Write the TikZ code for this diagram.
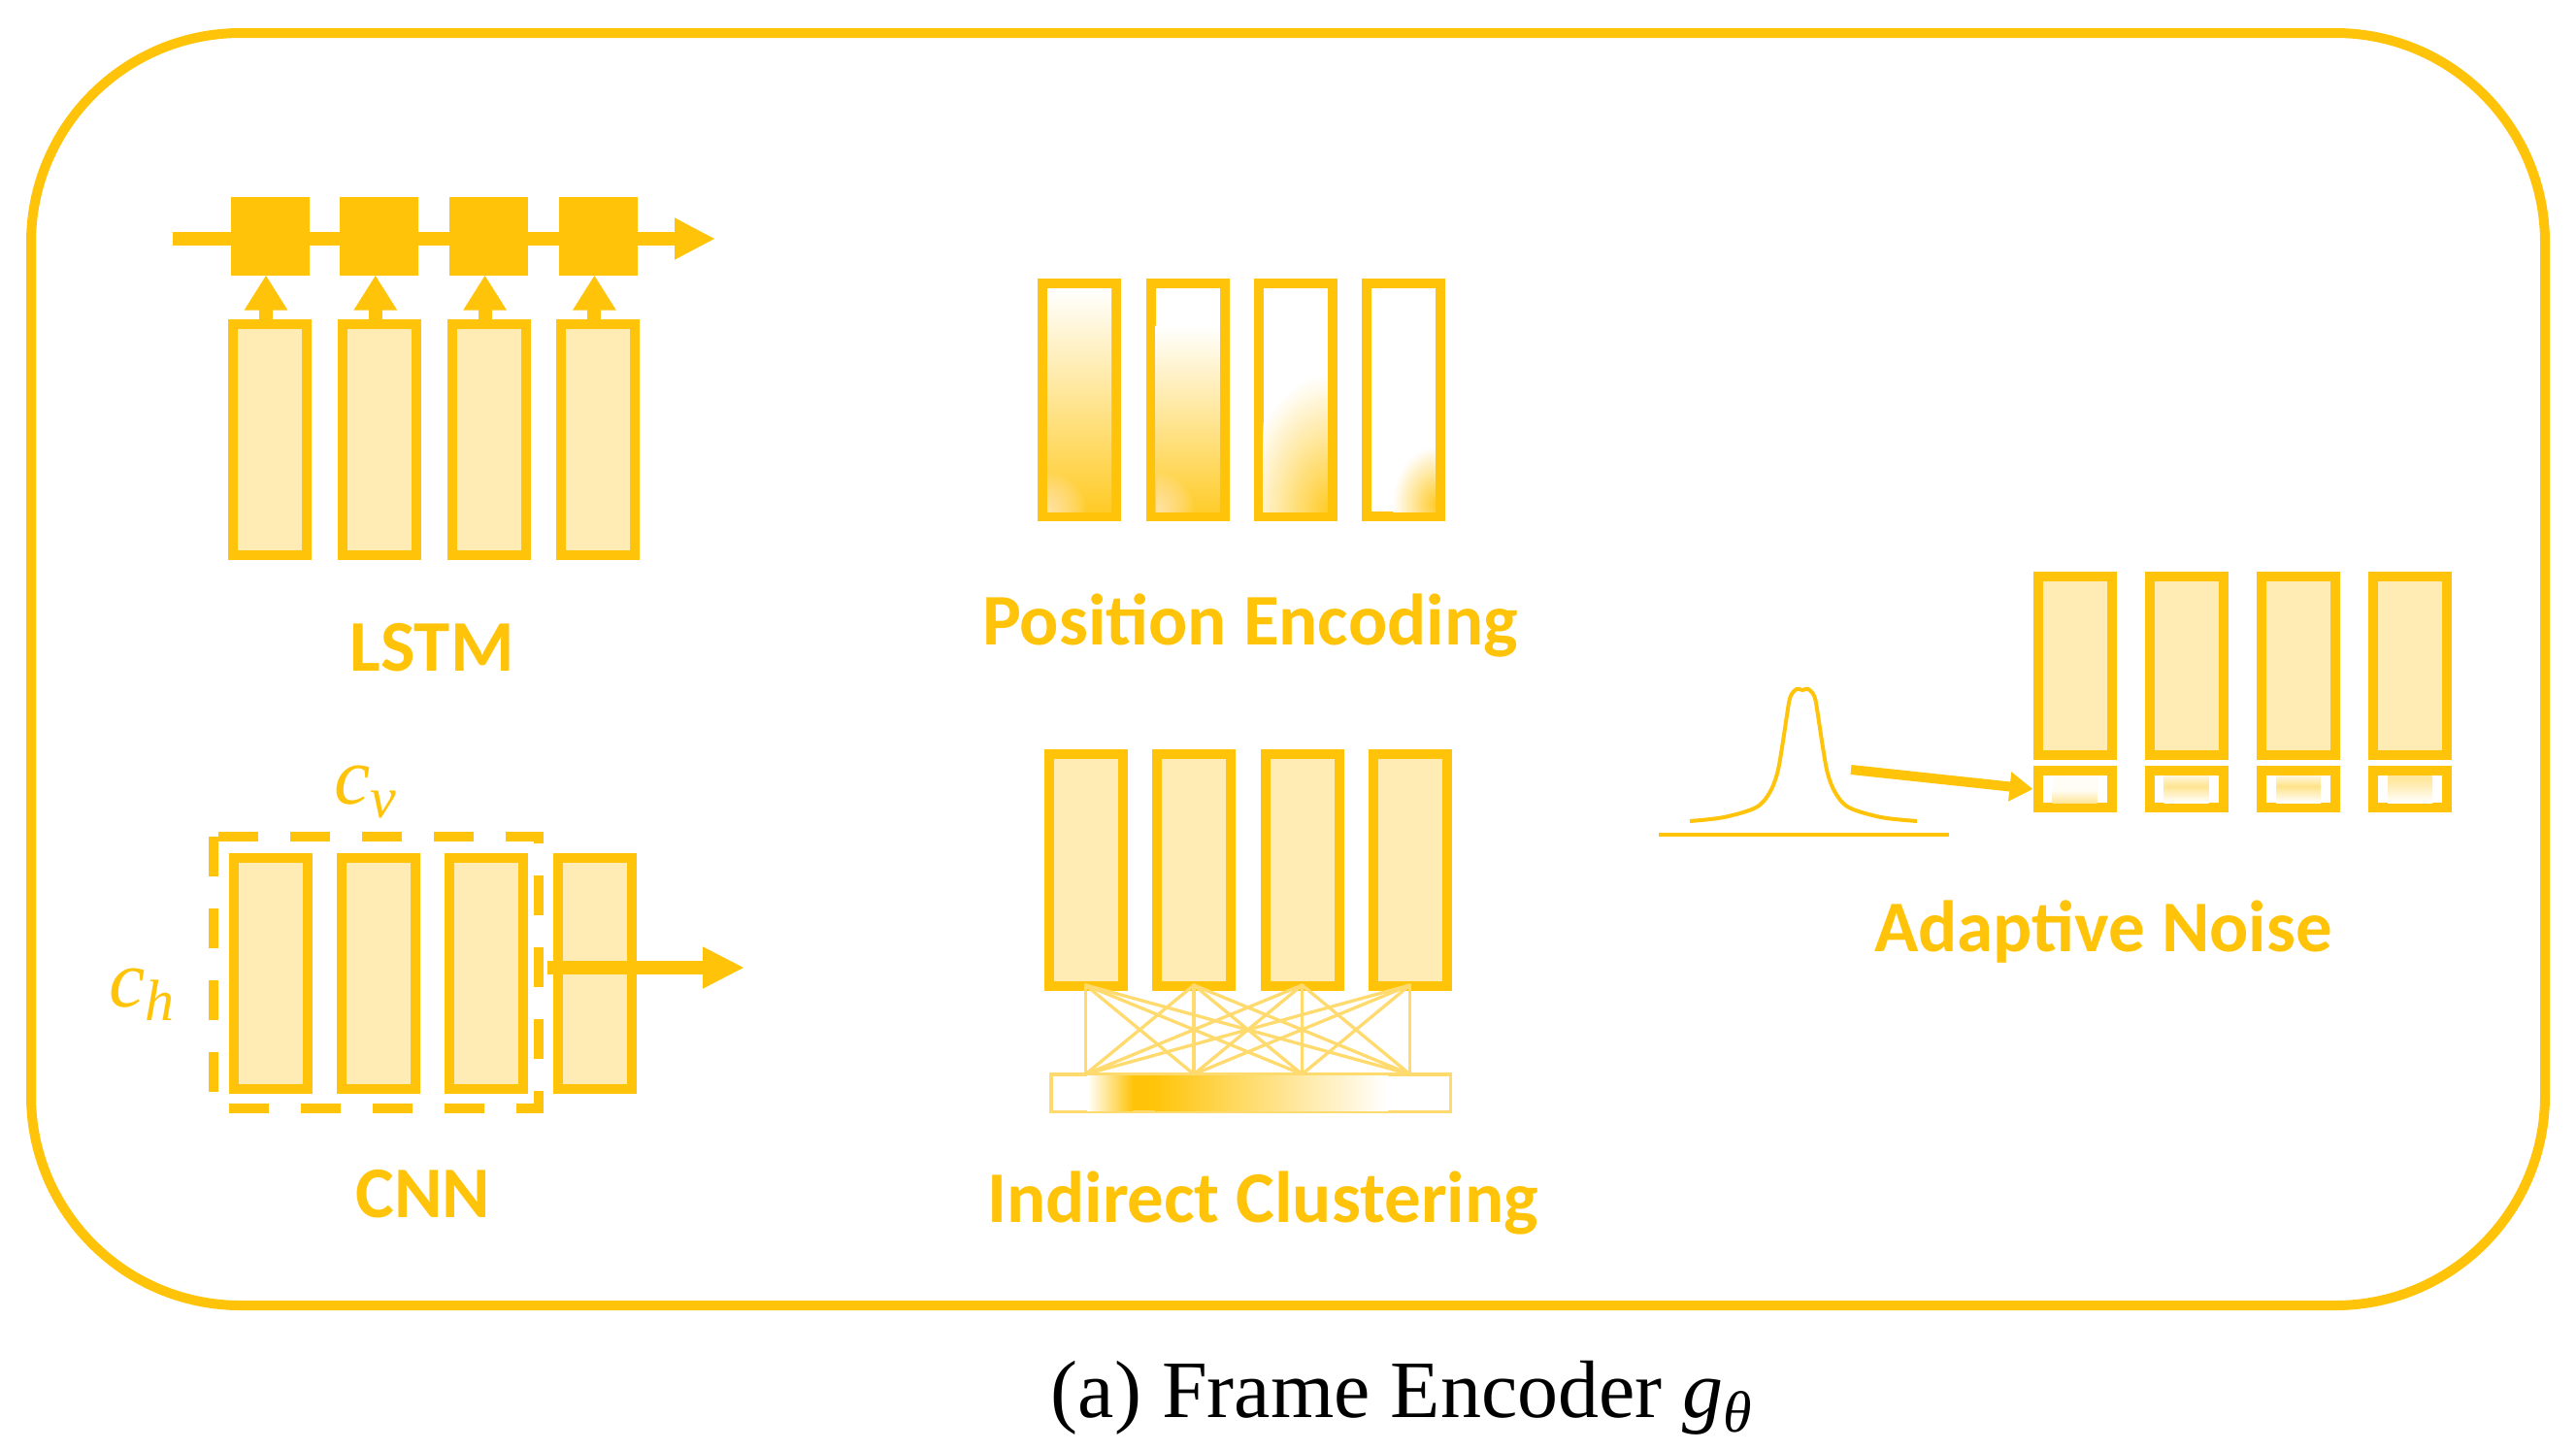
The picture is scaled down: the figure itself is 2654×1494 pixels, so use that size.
\documentclass[tikz,border=0pt]{standalone}
\usepackage{fontspec}
\setmainfont{Liberation Serif}
\newfontfamily\lblfont{Carlito}
\usetikzlibrary{arrows.meta}
\definecolor{Y}{RGB}{255,196,10}
\definecolor{L}{RGB}{254,236,180}
\definecolor{LL}{RGB}{255,218,110}
\newcommand\subsc[1]{{\fontsize{60}{60}\selectfont\raisebox{-14pt}{\itshape #1}}}
% stepped elliptical glow: centre x, centre y, x radius, y radius
\newcommand\glowat[4]{%
  \foreach \k in {60,59,...,1}{%
    \pgfmathsetmacro\fr{\k/60}%
    \pgfmathsetmacro\pc{90*(1-\fr)}%
    \pgfmathsetmacro\rxk{\fr*#3}%
    \pgfmathsetmacro\ryk{\fr*#4}%
    \fill[Y!\pc!white] (#1,#2) ellipse [x radius=\rxk pt, y radius=\ryk pt];
  }}
% soft white lightening: centre x, centre y, radius
\newcommand\lighten[3]{%
  \foreach \k in {1,...,20}{%
    \pgfmathsetmacro\rk{(21-\k)/20*#3}%
    \fill[white, fill opacity=0.045] (#1,#2) circle (\rk pt);
  }}
\begin{document}
\begin{tikzpicture}[x=1pt,y=-1pt,
  bar/.style={draw=Y, line width=10pt, fill=L, minimum width=76pt, inner sep=0pt, outer sep=5pt},
  sq/.style={fill=Y, minimum width=81pt, minimum height=81pt, inner sep=0pt, outer sep=0pt},
  thick arrow/.style={draw=Y, line width=14pt, -{Triangle[length=42pt,width=40pt]}},
  lbl/.style={text=Y, font=\lblfont\bfseries\fontsize{75}{75}\selectfont, anchor=base, inner sep=0pt},
  mlbl/.style={text=Y, font=\fontsize{84}{84}\selectfont\itshape, anchor=base west, inner sep=0pt},
  link/.style={draw=LL, line width=3.3pt}]
\useasboundingbox (0,0) rectangle (2654,1494);
% outer frame
\draw[draw=Y, line width=10pt, rounded corners=216pt] (32,34) rectangle (2622,1345);

% ---------------- LSTM ----------------
\foreach \i/\cx in {1/278,2/390.8,3/503.6,4/616.4}{
  \node[bar, minimum height=238pt] (lr\i) at (\cx,453) {};
  \node[sq] (lq\i) at (\cx,243) {};
}
\coordinate (lstart) at (178,246);
\coordinate (lend) at (737,246);
\draw[thick arrow] (lstart) -- (lend);
\foreach \i in {1,2,3,4}{
  \draw[draw=Y, line width=14pt, -{Triangle[length=36pt,width=42pt]}]
    ([xshift=-4pt]lr\i.north) -- ([xshift=-4pt]lq\i.south);
}
\node[lbl] (lstmlbl) at (445,691) {LSTM};

% ---------------- CNN ----------------
\foreach \i/\cx in {1/278.5,2/389.5,3/501,4/613}{
  \node[bar, minimum height=238pt] (cr\i) at (\cx,1003) {};
}
\draw[draw=Y, line width=10pt, dash pattern=on 41pt off 33pt] (220,862) rectangle (555,1142);
\coordinate (cstart) at (564,997);
\coordinate (cend) at (767,997);
\draw[draw=Y, line width=14pt, -{Triangle[length=43pt,width=40pt]}] (cstart) -- (cend);
\node[mlbl] (cv) at (344,828) {c\subsc{v}};
\node[mlbl] (ch) at (112,1037) {c\subsc{h}};
\node[lbl] (cnnlbl) at (436,1254) {CNN};

% ---------------- Position Encoding ----------------
\foreach \i/\cx in {1/1112,2/1223.5,3/1334.5,4/1445.5}{
  \node[bar, fill=white, minimum height=240pt] (pe\i) at (\cx,412) {};
}
\begin{scope}
  \clip (1079,297) rectangle (1145,527);
  \shade[top color=white, bottom color=Y!88] (1079,297) rectangle (1145,527);
  \lighten{1079}{527}{40}
\end{scope}
\begin{scope}
  \clip (1190.5,297) rectangle (1256.5,527);
  \shade[top color=white, bottom color=Y!86] (1190.5,335) rectangle (1256.5,527);
  \lighten{1190.5}{527}{40}
\end{scope}
\begin{scope}
  \clip (1301.5,297) rectangle (1367.5,527);
  \glowat{1370}{530}{90}{145}
\end{scope}
\begin{scope}
  \clip (1412.5,297) rectangle (1478.5,527);
  \glowat{1481}{520}{46}{60}
\end{scope}
\node[lbl] (pelbl) at (1288,664) {Position Encoding};

% ---------------- Indirect Clustering ----------------
\foreach \i/\cx in {1/1118.5,2/1230,3/1341.5,4/1452.5}{
  \node[bar, minimum height=239pt] (ic\i) at (\cx,896.5) {};
}
\node[draw=LL, line width=3.5pt, fill=white, minimum width=411.5pt, minimum height=38.5pt, inner sep=0pt, outer sep=0pt] (icbar) at (1288.5,1126) {};
\shade[left color=white, right color=Y] (1120,1108) rectangle (1167,1144);
\fill[Y] (1166.5,1108) rectangle (1190.5,1144);
\shade[left color=Y, right color=white] (1190,1108) rectangle (1430,1144);
\foreach \i in {1,2,3,4}{
  \coordinate (t\i) at ([yshift=6pt]ic\i.south);
  \coordinate (b\i) at (ic\i.south |- icbar.north);
}
\foreach \i in {1,2,3,4}{
  \foreach \j in {1,2,3,4}{
    \draw[link, line cap=round] (t\i) -- (b\j);
  }
}
\node[lbl] (iclbl) at (1301,1259) {Indirect Clustering};

% ---------------- Adaptive Noise ----------------
\foreach \i/\cx in {1/2137.5,2/2252.5,3/2368,4/2483}{
  \node[bar, minimum height=184pt] (an\i) at (\cx,686) {};
  \node[bar, fill=white, minimum height=38pt] (ns\i) at (\cx,813) {};
}
% small box gradients
\fill[Y!4] (2114.5,799) rectangle (2160.5,827);
\shade[top color=Y!4, bottom color=Y!42] (2114.5,814) rectangle (2160.5,827);
\shade[top color=Y!14, bottom color=Y!45] (2229.5,799) rectangle (2275.5,810);
\shade[top color=Y!45, bottom color=white] (2229.5,810) rectangle (2275.5,827);
\shade[top color=Y!14, bottom color=Y!48] (2345,799) rectangle (2391,810);
\shade[top color=Y!48, bottom color=white] (2345,810) rectangle (2391,827);
\fill[Y!40] (2460,799) rectangle (2506,803);
\shade[top color=Y!40, bottom color=white] (2460,803) rectangle (2506,827);
% gaussian
\draw[draw=Y, line width=4pt] plot[smooth, tension=0.55] coordinates {
 (1741,846) (1776,842) (1809,832) (1823,817) (1831,797) (1836,770) (1841,737) (1844.5,718)
 (1851,710) (1857,711) (1863,710) (1869.5,718) (1873,737) (1878,770) (1883,797) (1891,817)
 (1905,832) (1938,842) (1975,846)};
\coordinate (gl) at (1709,860);
\coordinate (gr) at (2008,860);
\draw[draw=Y, line width=4.5pt] (gl) -- (gr);
\coordinate (nstart) at (1907,793);
\draw[draw=Y, line width=10pt, -{Triangle[length=24pt,width=29pt]}] (nstart) -- (ns1.west);
\node[lbl] (anlbl) at (2167,980) {Adaptive Noise};

% ---------------- caption ----------------
\node[anchor=base, inner sep=0pt, font=\fontsize{84}{84}\selectfont] (cap) at (1444,1460)
  {(a) Frame Encoder {\itshape g}{\fontsize{60}{60}\selectfont\raisebox{-15pt}{\itshape θ}}};
\end{tikzpicture}
\end{document}
